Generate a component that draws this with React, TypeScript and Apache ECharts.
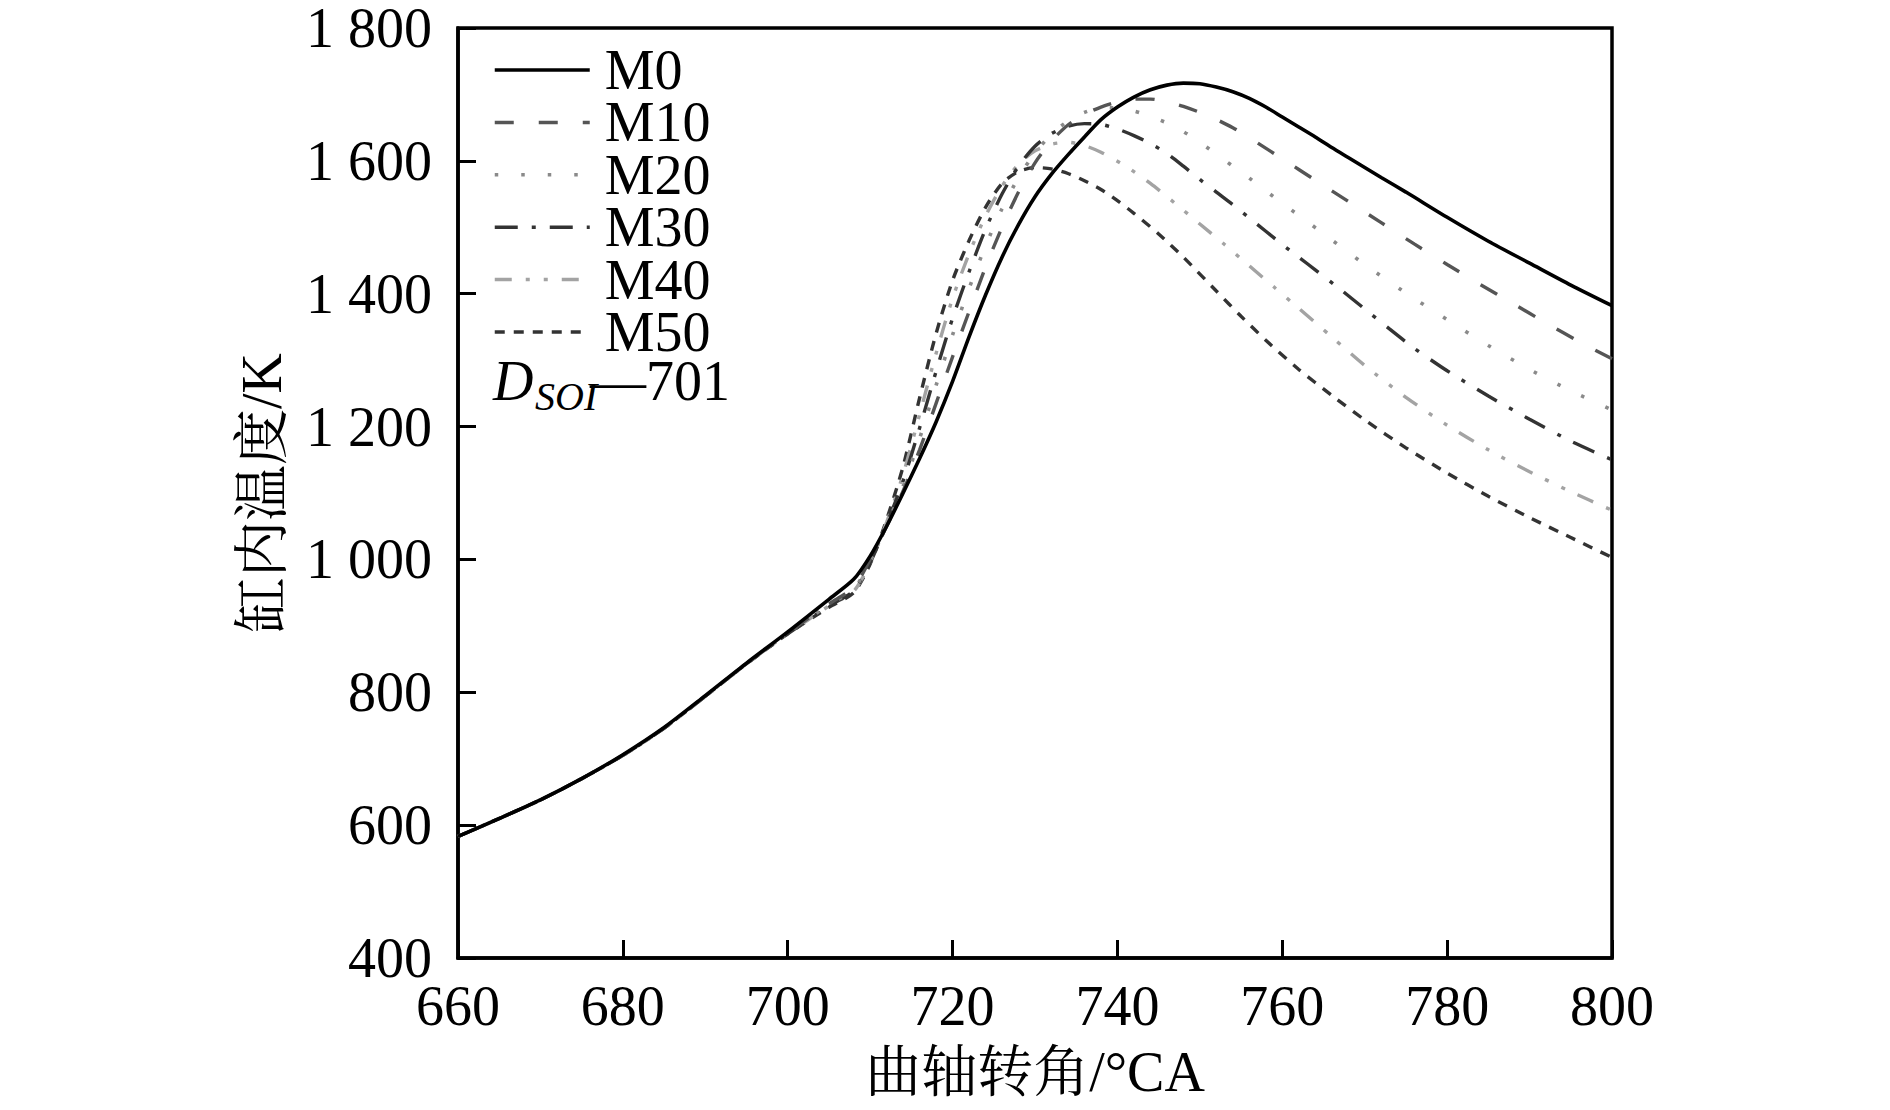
import React, { useEffect, useRef } from 'react';
import * as echarts from 'echarts';

const FONT = '"Liberation Serif", "Times New Roman", "Noto Serif CJK SC", "Noto Sans CJK SC", serif';

const seriesNames = ['M0', 'M10', 'M20', 'M30', 'M40', 'M50'];

const xTicks = { min: 660, max: 800, step: 20 };
const yTicks = { min: 400, max: 1800, step: 200 };

const m0: number[][] = [
  [660, 583], [665, 610], [670, 638], [675, 670], [680, 706], [685, 747], [690, 795], [695, 844], [700, 891],
  [705, 940], [708, 970], [710, 1005], [712, 1050], [714, 1100], [716, 1152], [718, 1207], [720, 1268],
  [722, 1335], [724, 1398], [726, 1455], [728, 1504], [730, 1546], [732, 1580], [734, 1609], [736, 1636],
  [738, 1662], [740, 1681], [742, 1696], [744, 1707], [746, 1714], [748, 1717], [750, 1716], [752, 1711],
  [754, 1704], [756, 1694], [758, 1681], [760, 1666], [762, 1651], [764, 1636], [766, 1620], [768, 1605],
  [770, 1590], [772, 1575], [775, 1553], [780, 1515], [785, 1479], [790, 1446], [795, 1413], [800, 1382],
];

const m10: number[][] = [
  [660, 583], [665, 610], [670, 638], [675, 670], [680, 705], [685, 746], [690, 794], [695, 843], [700, 889],
  [705, 933], [708, 958], [710, 1000], [712, 1050], [714, 1103], [716, 1165], [718, 1235], [720, 1305],
  [722, 1373], [724, 1440], [726, 1500], [728, 1553], [730, 1597], [732, 1630], [734, 1654], [736, 1670],
  [738, 1681], [740, 1689], [742, 1693], [744, 1693], [746, 1689], [748, 1682], [751, 1668], [754, 1650],
  [757, 1627], [760, 1603], [764, 1571], [768, 1539], [772, 1507], [776, 1475], [780, 1444], [784, 1414],
  [788, 1385], [792, 1356], [796, 1328], [800, 1302],
];

const m20: number[][] = [
  [660, 583], [665, 610], [670, 638], [675, 670], [680, 705], [685, 746], [690, 794], [695, 843], [700, 889],
  [705, 932], [708, 955], [710, 997], [712, 1052], [714, 1110], [716, 1182], [718, 1262], [720, 1338],
  [722, 1408], [724, 1472], [726, 1528], [728, 1575], [730, 1612], [732, 1640], [734, 1660], [736, 1673],
  [738, 1680], [740, 1680], [742, 1675], [744, 1667], [746, 1657], [748, 1644], [750, 1628], [752, 1610],
  [754, 1592], [756, 1574], [758, 1555], [760, 1536], [762, 1518], [766, 1481], [770, 1444], [775, 1401],
  [780, 1361], [785, 1322], [790, 1286], [795, 1254], [800, 1225],
];

const m30: number[][] = [
  [660, 583], [665, 610], [670, 638], [675, 670], [680, 705], [685, 746], [690, 794], [695, 843], [700, 888],
  [705, 930], [708, 953], [710, 995], [712, 1053], [714, 1118], [716, 1198], [718, 1283], [720, 1363],
  [722, 1433], [724, 1497], [726, 1550], [728, 1592], [730, 1622], [732, 1641], [734, 1652], [736, 1656],
  [738, 1655], [740, 1648], [742, 1638], [744, 1626], [746, 1611], [748, 1592], [750, 1572], [752, 1553],
  [754, 1534], [756, 1514], [758, 1494], [760, 1474], [762, 1455], [764, 1436], [767, 1407], [770, 1377],
  [773, 1347], [776, 1318], [780, 1284], [785, 1246], [790, 1211], [795, 1178], [800, 1150],
];

const m40: number[][] = [
  [660, 583], [665, 610], [670, 638], [675, 670], [680, 705], [685, 746], [690, 794], [695, 843], [700, 888],
  [705, 930], [708, 952], [710, 995], [712, 1056], [714, 1128], [716, 1218], [718, 1310], [720, 1393],
  [722, 1460], [724, 1517], [726, 1562], [728, 1595], [730, 1615], [732, 1625], [734, 1628], [736, 1623],
  [738, 1613], [741, 1592], [744, 1566], [747, 1536], [750, 1505], [753, 1474], [756, 1442], [759, 1410],
  [762, 1378], [766, 1335], [770, 1292], [775, 1244], [780, 1202], [785, 1165], [790, 1132], [795, 1102],
  [800, 1074],
];

const m50: number[][] = [
  [660, 583], [665, 610], [670, 638], [675, 670], [680, 705], [685, 746], [690, 794], [695, 843], [700, 888],
  [705, 928], [708, 950], [710, 993], [712, 1060], [714, 1140], [716, 1243], [718, 1340], [720, 1420],
  [722, 1480], [724, 1530], [726, 1566], [728, 1584], [730, 1590], [732, 1588], [734, 1581], [736, 1570],
  [738, 1557], [740, 1540], [742, 1521], [745, 1490], [748, 1455], [752, 1404], [755, 1366], [758, 1330],
  [762, 1286], [766, 1247], [770, 1210], [775, 1168], [780, 1130], [785, 1095], [790, 1063], [795, 1033],
  [800, 1003],
];

const allData = [m0, m10, m20, m30, m40, m50];

const lineStyles = [
  { color: '#000000', type: 'solid' as any, width: 3.6 },
  { color: '#555555', type: [19, 25], width: 3.4 },
  { color: '#8a8a8a', type: [3.5, 23], width: 3.6 },
  { color: '#333333', type: [23, 14, 4, 14], width: 3.4 },
  { color: '#a3a3a3', type: [17, 14, 4, 14, 4, 14], width: 3.4 },
  { color: '#333333', type: [10, 9], width: 3.4 },
];

function fmtY(v: number): string {
  if (v >= 1000) {
    const th = Math.floor(v / 1000);
    const rest = String(v % 1000).padStart(3, '0');
    return `${th} ${rest}`;
  }
  return String(v);
}

export default function App() {
  const ref = useRef<HTMLDivElement>(null);
  useEffect(() => {
    if (!ref.current) return;
    const chart = echarts.init(ref.current, null, { renderer: 'svg' });
    const txt = { fontFamily: FONT, fontSize: 56, color: '#000' };
    chart.setOption({
      animation: false,
      backgroundColor: '#ffffff',
      grid: {
        left: 458, right: 278, top: 27, bottom: 152,
        show: true, borderColor: '#000', borderWidth: 3.5, containLabel: false,
      },
      legend: {
        orient: 'vertical', left: 493, top: 42, padding: 0,
        itemWidth: 95, itemHeight: 14, itemGap: -3.6,
        data: seriesNames,
        textStyle: { ...txt, padding: [0, 0, 0, 10] },
        itemStyle: { opacity: 0 },
        lineStyle: { width: 3.5 },
      },
      xAxis: {
        type: 'value', min: xTicks.min, max: xTicks.max, interval: xTicks.step,
        axisLine: { lineStyle: { color: '#000', width: 3.5 } },
        axisTick: { inside: true, length: 18, lineStyle: { color: '#000', width: 3 } },
        splitLine: { show: false },
        axisLabel: { ...txt, margin: 20 },
        name: '曲轴转角/°CA', nameLocation: 'middle', nameGap: 86,
        nameTextStyle: txt,
      },
      yAxis: {
        type: 'value', min: yTicks.min, max: yTicks.max, interval: yTicks.step,
        axisLine: { lineStyle: { color: '#000', width: 3.5 } },
        axisTick: { inside: true, length: 18, lineStyle: { color: '#000', width: 3 } },
        splitLine: { show: false },
        axisLabel: { ...txt, margin: 26, formatter: (v: number) => fmtY(v) },
        name: '缸内温度/K', nameLocation: 'middle', nameGap: 168,
        nameTextStyle: txt,
      },
      graphic: [
        { type: 'text', x: 493, y: 381, style: { text: 'D', fontFamily: FONT, fontStyle: 'italic', fontSize: 56, fill: '#000', align: 'left', verticalAlign: 'middle' } },
        { type: 'text', x: 535, y: 396, style: { text: 'SOI', fontFamily: FONT, fontStyle: 'italic', fontSize: 40, fill: '#000', align: 'left', verticalAlign: 'middle' } },
        { type: 'text', x: 590, y: 381, style: { text: '—701', fontFamily: FONT, fontSize: 56, fill: '#000', align: 'left', verticalAlign: 'middle' } },
      ],
      series: seriesNames.map((name, i) => ({
        name,
        type: 'line',
        data: allData[i],
        symbol: 'none',
        smooth: 0.25,
        lineStyle: lineStyles[i],
        itemStyle: { color: lineStyles[i].color },
        z: 10 - i,
      })),
    });
    return () => chart.dispose();
  }, []);
  return (
    <div
      ref={ref}
      style={{ position: 'absolute', left: 0, top: 0, width: 1890, height: 1110, background: '#fff' }}
    />
  );
}
